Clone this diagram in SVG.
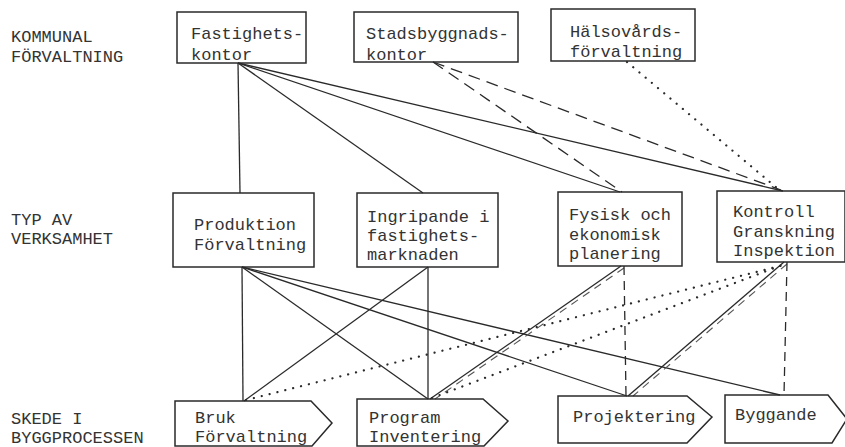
<svg xmlns="http://www.w3.org/2000/svg" width="845" height="447" viewBox="0 0 845 447">
<style>
  text { font-family: "Liberation Mono", "Courier New", monospace; font-size: 17px; fill: #333; }
  .box { fill: none; stroke: #2a2a2a; stroke-width: 1.5; }
  .ln { fill: none; stroke: #2a2a2a; stroke-width: 1.3; }
  .dash { fill: none; stroke: #2a2a2a; stroke-width: 1.3; stroke-dasharray: 12 7; }
  .vdash { fill: none; stroke: #2a2a2a; stroke-width: 1.3; stroke-dasharray: 9 6; }
  .sdash { fill: none; stroke: #555; stroke-width: 1.1; stroke-dasharray: 8 6; }
  .dot { fill: none; stroke: #2a2a2a; stroke-width: 2.2; stroke-linecap: round; stroke-dasharray: 0.1 8; }
</style>
<rect width="845" height="447" fill="#fff"/>

<g id="row-labels">
  <text x="11" y="42">KOMMUNAL</text>
  <text x="11" y="62">FÖRVALTNING</text>
  <text x="11" y="225">TYP AV</text>
  <text x="11" y="244">VERKSAMHET</text>
  <text x="11" y="424">SKEDE I</text>
  <text x="11" y="443">BYGGPROCESSEN</text>
</g>

<g id="connectors">
  <!-- top to middle -->
  <line class="ln" x1="238" y1="63" x2="240" y2="193"/>
  <line class="ln" x1="238" y1="63" x2="423" y2="193"/>
  <line class="ln" x1="238" y1="63" x2="620" y2="192"/>
  <line class="ln" x1="238" y1="63" x2="783" y2="191"/>
  <line class="dash" x1="433" y1="62" x2="622" y2="192"/>
  <line class="dash" x1="433" y1="62" x2="781" y2="190"/>
  <line class="dot" x1="627" y1="62" x2="777" y2="188"/>
  <!-- middle to bottom: solid -->
  <line class="ln" x1="242" y1="267" x2="243" y2="401"/>
  <line class="ln" x1="242" y1="267" x2="428" y2="399"/>
  <line class="ln" x1="242" y1="267" x2="627" y2="396"/>
  <line class="ln" x1="242" y1="267" x2="780" y2="395"/>
  <line class="ln" x1="428" y1="267" x2="428" y2="399"/>
  <line class="ln" x1="428" y1="267" x2="244" y2="401"/>
  <!-- double lines -->
  <line class="ln" x1="621" y1="266" x2="430" y2="399"/>
  <line class="sdash" x1="624" y1="268" x2="435" y2="399"/>
  <line class="ln" x1="784" y1="262" x2="628" y2="396"/>
  <line class="sdash" x1="787" y1="264" x2="633" y2="396"/>
  <!-- vertical dashed -->
  <line class="vdash" x1="624" y1="266" x2="626" y2="396"/>
  <line class="vdash" x1="787" y1="262" x2="784" y2="395"/>
  <!-- dotted -->
  <line class="dot" x1="246" y1="400" x2="788" y2="264"/>
  <line class="dot" x1="432" y1="398" x2="785" y2="264"/>
</g>

<g id="fastighetskontor">
  <rect class="box" x="177" y="12" width="129" height="51"/>
  <text x="191" y="39">Fastighets-</text>
  <text x="191" y="60">kontor</text>
</g>
<g id="stadsbyggnadskontor">
  <rect class="box" x="354" y="12" width="164" height="50"/>
  <text x="366" y="39">Stadsbyggnads-</text>
  <text x="366" y="60">kontor</text>
</g>
<g id="halsovardsforvaltning">
  <rect class="box" x="551" y="9" width="144" height="52"/>
  <text x="570" y="37">Hälsovårds-</text>
  <text x="570" y="57">förvaltning</text>
</g>

<g id="produktion">
  <rect class="box" x="173" y="193" width="141" height="74"/>
  <text x="194" y="230">Produktion</text>
  <text x="194" y="250">Förvaltning</text>
</g>
<g id="ingripande">
  <rect class="box" x="357" y="193" width="141" height="74"/>
  <text x="367" y="222">Ingripande i</text>
  <text x="367" y="241">fastighets-</text>
  <text x="367" y="260">marknaden</text>
</g>
<g id="fysisk">
  <rect class="box" x="558" y="192" width="124" height="74"/>
  <text x="569" y="220">Fysisk och</text>
  <text x="569" y="240">ekonomisk</text>
  <text x="569" y="259">planering</text>
</g>
<g id="kontroll">
  <rect class="box" x="717" y="191" width="128" height="71"/>
  <text x="733" y="217">Kontroll</text>
  <text x="733" y="237">Granskning</text>
  <text x="733" y="256">Inspektion</text>
</g>

<g id="bruk">
  <path class="box" d="M175,401 H311 L332,423 L312,446 H175 Z"/>
  <text x="195" y="423">Bruk</text>
  <text x="195" y="442">Förvaltning</text>
</g>
<g id="program">
  <path class="box" d="M357,399 H483 L508,421 L484,446 H357 Z"/>
  <text x="369" y="423">Program</text>
  <text x="369" y="442">Inventering</text>
</g>
<g id="projektering">
  <path class="box" d="M558,396 H687 L712,417 L687,443 H558 Z"/>
  <text x="573" y="422">Projektering</text>
</g>
<g id="byggande">
  <path class="box" d="M725,395 H828 L847,419 L832,443 H725 Z"/>
  <text x="735" y="420">Byggande</text>
</g>
</svg>
